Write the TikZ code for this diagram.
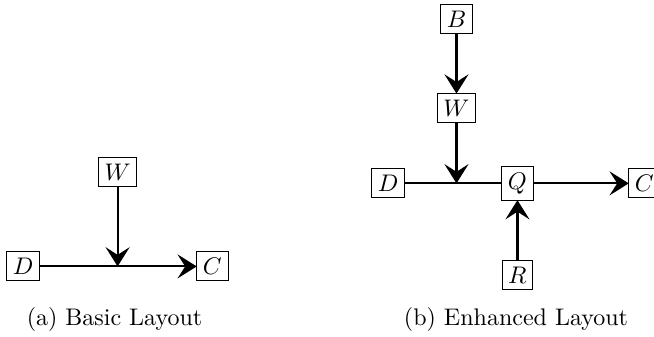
\documentclass[tikz,border=0pt]{standalone}
\usepackage{amsmath}
\usetikzlibrary{arrows.meta}
\tikzstyle{var}=[draw, inner sep=2.6pt, outer sep=0]
\tikzstyle{edge}=[line width=0.9pt, -{Stealth[length=8pt, width=10pt, inset=3.2pt]}]
\tikzstyle{link}=[line width=0.9pt]
\tikzstyle{causal}=[x=1pt, y=1pt,
                    % captions sit on their baseline
                    every label/.style={anchor=base}]

\begin{document}
\begin{tikzpicture}[causal]
        \useasboundingbox (0, 0) rectangle (272.5, 140.4);
        % basic layout
        \node[var] (Da) at (9.6, 29.4) {\(D\)};
        \node[var] (Ca) at (88.5, 29.4) {\(C\)};
        \node[var] (Wa) at (49.0, 68.75) {\(W\)};
        \coordinate (Ja) at (Wa |- Da);
        \draw[edge] (Da) -- (Ca);
        \draw[edge] (Wa) -- (Ja);
        \node[anchor=base] (capa) at (47.7, 4.6) {(a) Basic Layout};
        % enhanced layout
        \node[var] (Db) at (161.7, 64.0) {\(D\)};
        \node[var] (Qb) at (215.6, 64.0) {\(Q\)};
        \node[var] (Cb) at (268.5, 64.0) {\(C\)};
        \node[var] (Bb) at (190.2, 132.5) {\(B\)};
        \node[var] (Wb) at (190.2, 95.4) {\(W\)};
        \node[var] (Rb) at (215.6, 25.7) {\(R\)};
        \coordinate (Jb) at (Wb |- Db);
        \draw[link] (Db) -- (Qb);
        \draw[edge] (Qb) -- (Cb);
        \draw[edge] (Bb) -- (Wb);
        \draw[edge] (Wb) -- (Jb);
        \draw[edge] (Rb) -- (Qb);
        \node[anchor=base] (capb) at (215.0, 4.6) {(b) Enhanced Layout};
    \end{tikzpicture}
\end{document}
